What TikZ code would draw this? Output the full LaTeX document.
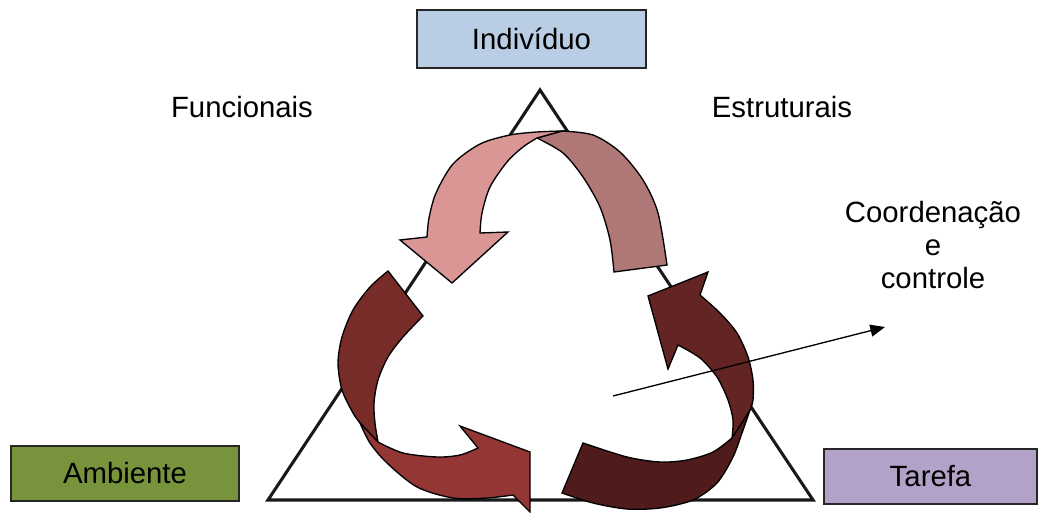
\documentclass[tikz,border=0pt]{standalone}
\usepackage{fontspec}
\setmainfont{Liberation Sans}
\usetikzlibrary{arrows.meta}
\definecolor{cblue}{HTML}{B9CDE5}
\definecolor{cgreen}{HTML}{77933C}
\definecolor{cpurple}{HTML}{B3A2C7}
\definecolor{cpink}{HTML}{D99694}
\definecolor{cmauve}{HTML}{AF7775}
\definecolor{credA}{HTML}{772C2A}
\definecolor{credB}{HTML}{943634}
\definecolor{credC}{HTML}{632523}
\definecolor{credD}{HTML}{4F1C1B}
\tikzset{
  lbl/.style={font=\fontsize{22}{25}\selectfont, inner sep=0pt, align=center},
  box/.style={draw=black!85, line width=1pt, inner sep=0pt, font=\fontsize{22}{25}\selectfont},
  band/.style={draw=black, line width=1pt, line join=miter},
  tri/.style={draw=black!90, line width=2.3pt, line join=miter},
  pointer/.style={draw=black, line width=1pt, -{Triangle[length=11pt,width=9pt]}}
}
\begin{document}
\begin{tikzpicture}[x=0.75pt,y=-0.75pt]
\useasboundingbox (0,0) rectangle (1039,513);
% triangle
\draw[tri] (540,90) -- (813,500) -- (268,500) -- cycle;
% top arrow: back (mauve) then front (pink)
\filldraw[band, fill=cmauve] (562,131)
  -- plot[smooth] coordinates {(562,131)(593,135)(620,152)(643,180)(658,213)(667,265)}
  -- (614,272)
  -- plot[smooth] coordinates {(614,272)(610,240)(600,207)(583,177)(563,153)(537,138)}
  -- cycle;
\filldraw[band, fill=cpink] (562,131)
  -- plot[smooth] coordinates {(562,131)(537,132)(510,135)(480,144)(453,164)(436,193)(429,218)(427,237)}
  -- (400,240) -- (452,283) -- (508,232) -- (480,233)
  -- plot[smooth] coordinates {(480,233)(482,213)(490,187)(507,162)(523,147)(537,138)}
  -- cycle;
% left arrow
\filldraw[band, fill=credA] (388,271)
  -- plot[smooth] coordinates {(388,271)(370,287)(353,310)(342,337)(338,363)(342,390)(353,413)(360,423)}
  -- (378,442)
  -- plot[smooth] coordinates {(378,442)(375,423)(374,403)(378,380)(388,357)(403,337)(423,316)}
  -- cycle;
\filldraw[band, fill=credB] (360,423) -- (378,442)
  -- plot[smooth] coordinates {(378,442)(403,453)(437,457)(460,455)(478,448)}
  -- (460,426) -- (530,452) -- (530,512) -- (513,495)
  -- plot[smooth] coordinates {(513,495)(487,498)(453,498)(417,487)(387,463)(370,443)(360,423)}
  -- cycle;
% right arrow
\filldraw[band, fill=credD] (750,410)
  -- plot[smooth] coordinates {(750,410)(742,433)(733,457)(717,483)(693,500)(660,508)(627,509)(593,503)(562,493)}
  -- (583,443)
  -- plot[smooth] coordinates {(583,443)(627,457)(660,462)(687,460)(713,452)(732,438)}
  -- cycle;
\filldraw[band, fill=credC] (648,296) -- (708,272) -- (700,295)
  -- plot[smooth] coordinates {(700,295)(720,313)(737,333)(748,357)(753,380)(753,400)(750,410)}
  -- (732,438)
  -- plot[smooth] coordinates {(732,438)(733,420)(728,400)(717,377)(700,358)(678,345)}
  -- (668,369) -- cycle;
% pointer
\coordinate (ps) at (613,396);
\coordinate (pe) at (885,327);
\draw[pointer] (ps) -- (pe);
% boxes
\node[box, fill=cblue, minimum width=171.75pt, minimum height=43.5pt] (ind) at (531.5,39) {Indivíduo};
\node[box, fill=cgreen, minimum width=171pt, minimum height=41.25pt] (amb) at (125,473.5) {Ambiente};
\node[box, fill=cpurple, minimum width=159.75pt, minimum height=41.25pt] (tar) at (930.5,476.5) {Tarefa};
% labels
\node[lbl] (fun) at (242,107) {Funcionais};
\node[lbl] (est) at (782,107) {Estruturais};
\node[lbl] (coo) at (933,245) {Coordenação\\e\\controle};
\end{tikzpicture}
\end{document}
